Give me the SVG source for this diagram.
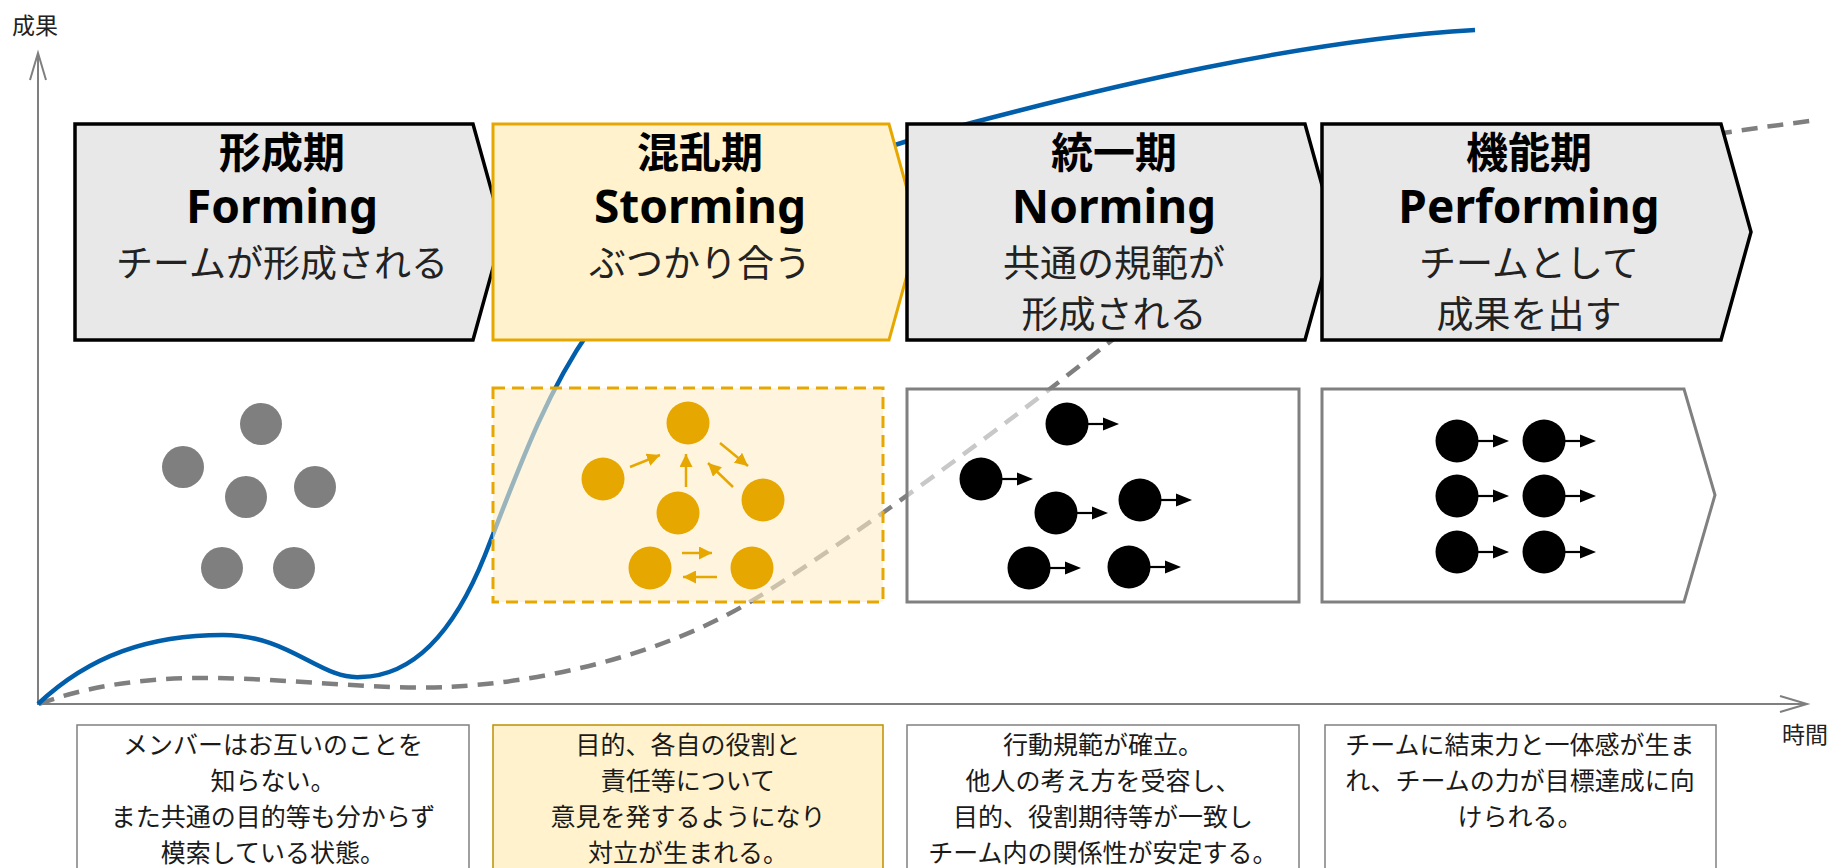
<svg xmlns="http://www.w3.org/2000/svg" width="1833" height="868" viewBox="0 0 1833 868">
<style>
.axis{stroke:#7f7f7f;stroke-width:2;fill:none}
.blue{stroke:#005eaa;stroke-width:4.5;fill:none}
.dash{stroke:#7f7f7f;stroke-width:4.5;fill:none;stroke-dasharray:16 10}
.chev{fill:#e8e8e8;stroke:#000;stroke-width:3.5;stroke-linejoin:miter}
.chevY{fill:#fff2cc;stroke:#e6a800;stroke-width:3}
.jt{font-family:"Noto Sans CJK JP",sans-serif;font-weight:700;font-size:42px;fill:#000;text-anchor:middle}
.en{font-family:"Noto Sans","Noto Sans CJK JP",sans-serif;font-weight:700;font-size:46px;fill:#000;text-anchor:middle}
.sub{font-family:"Noto Sans CJK JP",sans-serif;font-size:37px;fill:#222;text-anchor:middle}
.desc{font-family:"Noto Sans CJK JP",sans-serif;font-size:25px;fill:#1a1a1a;text-anchor:middle}
.lbl{font-family:"Noto Sans CJK JP",sans-serif;font-size:23px;fill:#222}
.dbox{fill:#fff;stroke:#808080;stroke-width:1.5}
.dboxY{fill:#fff2cc;stroke:#bf9000;stroke-width:1.5}
.pbox{fill:#fff;fill-opacity:0.57;stroke:#808080;stroke-width:3}
.gray{fill:#7f7f7f}
.org{fill:#e6a700}
.blk{fill:#000}
.oar{stroke:#e6a700;stroke-width:2.5;fill:none;marker-end:url(#oh)}
</style>
<defs>
<marker id="oh" markerUnits="userSpaceOnUse" markerWidth="13" markerHeight="13" viewBox="0 0 12 12" refX="12" refY="6" orient="auto">
<path d="M0,0 L12,6 L0,12 Z" fill="#e6a700"/>
</marker>
<g id="ar"><line x1="0" y1="0" x2="16" y2="0" stroke="#000" stroke-width="2.2"/><polygon points="15,-6.5 31,0 15,6.5" fill="#000"/></g>
</defs>

<g id="axes">
<line class="axis" x1="38" y1="705" x2="38" y2="53"/>
<polyline class="axis" points="30,80 38,53 46,80"/>
<line class="axis" x1="38" y1="704" x2="1807" y2="704"/>
<polyline class="axis" points="1780,696 1807,704 1780,712"/>
<text class="lbl" x="12" y="34">成果</text>
<text class="lbl" x="1782" y="743">時間</text>
</g>

<g id="curves">
<path class="dash" d="M39,704 C90,685 150,677 217,678 C290,679 380,690 446,687 C540,683 660,656 750,602 C830,554 1000,430 1102,348 C1250,230 1500,160 1810,121"/>
<path class="blue" d="M38,704 C90,655 150,635 223,635 C290,635 320,680 361,677 C415,676 455,630 485,555 C520,465 545,395 590,330 C680,215 830,160 971,123 C1100,89 1300,40 1475,30"/>
</g>

<g id="forming">
<path class="chev" d="M75,124 H473 L503,232 L473,340 H75 Z"/>
<text class="jt" x="282" y="168">形成期</text>
<text class="en" x="282" y="223">Forming</text>
<text class="sub" x="282" y="277">チームが形成される</text>
</g>
<g id="storming">
<path class="chevY" d="M493,124 H889 L919,232 L889,340 H493 Z"/>
<text class="jt" x="700" y="168">混乱期</text>
<text class="en" x="700" y="223">Storming</text>
<text class="sub" x="700" y="277">ぶつかり合う</text>
</g>
<g id="norming">
<path class="chev" d="M907,124 H1305 L1335,232 L1305,340 H907 Z"/>
<text class="jt" x="1114" y="168">統一期</text>
<text class="en" x="1114" y="223">Norming</text>
<text class="sub" x="1114" y="277">共通の規範が</text>
<text class="sub" x="1114" y="328">形成される</text>
</g>
<g id="performing">
<path class="chev" d="M1322,124 H1721 L1751,232 L1721,340 H1322 Z"/>
<text class="jt" x="1529" y="168">機能期</text>
<text class="en" x="1529" y="223">Performing</text>
<text class="sub" x="1529" y="277">チームとして</text>
<text class="sub" x="1529" y="328">成果を出す</text>
</g>

<g id="forming-pic">
<circle class="gray" cx="261" cy="424" r="21"/>
<circle class="gray" cx="183" cy="467" r="21"/>
<circle class="gray" cx="246" cy="497" r="21"/>
<circle class="gray" cx="315" cy="487" r="21"/>
<circle class="gray" cx="222" cy="568" r="21"/>
<circle class="gray" cx="294" cy="568" r="21"/>
</g>

<g id="storming-pic">
<rect x="493" y="388" width="390" height="214" fill="#ffefc8" fill-opacity="0.6" stroke="#e6a800" stroke-width="3" stroke-dasharray="12 7"/>
<circle class="org" cx="688" cy="423" r="21.5"/>
<circle class="org" cx="603" cy="479" r="21.5"/>
<circle class="org" cx="678" cy="513" r="21.5"/>
<circle class="org" cx="763" cy="500" r="21.5"/>
<circle class="org" cx="650" cy="568" r="21.5"/>
<circle class="org" cx="752" cy="568" r="21.5"/>
<line class="oar" x1="630" y1="467" x2="660" y2="455"/>
<line class="oar" x1="686" y1="487" x2="686" y2="454"/>
<line class="oar" x1="733" y1="487" x2="708" y2="463"/>
<line class="oar" x1="720" y1="443" x2="748" y2="466"/>
<line class="oar" x1="682" y1="553" x2="712" y2="553"/>
<line class="oar" x1="717" y1="577" x2="683" y2="577"/>
</g>

<g id="norming-pic">
<rect class="pbox" x="907" y="389" width="392" height="213"/>
<circle class="blk" cx="1067" cy="424" r="21.5"/><use href="#ar" x="1088" y="424"/>
<circle class="blk" cx="981" cy="479" r="21.5"/><use href="#ar" x="1002" y="479"/>
<circle class="blk" cx="1056" cy="513" r="21.5"/><use href="#ar" x="1077" y="513"/>
<circle class="blk" cx="1140" cy="500" r="21.5"/><use href="#ar" x="1161" y="500"/>
<circle class="blk" cx="1029" cy="568" r="21.5"/><use href="#ar" x="1050" y="568"/>
<circle class="blk" cx="1129" cy="567" r="21.5"/><use href="#ar" x="1150" y="567"/>
</g>

<g id="performing-pic">
<path class="pbox" d="M1322,389 H1684 L1715,495 L1684,602 H1322 Z"/>
<circle class="blk" cx="1457" cy="441" r="21.5"/><use href="#ar" x="1478" y="441"/>
<circle class="blk" cx="1544" cy="441" r="21.5"/><use href="#ar" x="1565" y="441"/>
<circle class="blk" cx="1457" cy="496" r="21.5"/><use href="#ar" x="1478" y="496"/>
<circle class="blk" cx="1544" cy="496" r="21.5"/><use href="#ar" x="1565" y="496"/>
<circle class="blk" cx="1457" cy="552" r="21.5"/><use href="#ar" x="1478" y="552"/>
<circle class="blk" cx="1544" cy="552" r="21.5"/><use href="#ar" x="1565" y="552"/>
</g>

<g id="forming-desc">
<rect class="dbox" x="77" y="725" width="392" height="170"/>
<text class="desc" x="273" y="754">メンバーはお互いのことを</text>
<text class="desc" x="273" y="790">知らない。</text>
<text class="desc" x="273" y="826">また共通の目的等も分からず</text>
<text class="desc" x="273" y="862">模索している状態。</text>
</g>
<g id="storming-desc">
<rect class="dboxY" x="493" y="725" width="390" height="170"/>
<text class="desc" x="688" y="754">目的、各自の役割と</text>
<text class="desc" x="688" y="790">責任等について</text>
<text class="desc" x="688" y="826">意見を発するようになり</text>
<text class="desc" x="688" y="862">対立が生まれる。</text>
</g>
<g id="norming-desc">
<rect class="dbox" x="907" y="725" width="392" height="170"/>
<text class="desc" x="1103" y="754">行動規範が確立。</text>
<text class="desc" x="1103" y="790">他人の考え方を受容し、</text>
<text class="desc" x="1103" y="826">目的、役割期待等が一致し</text>
<text class="desc" x="1103" y="862">チーム内の関係性が安定する。</text>
</g>
<g id="performing-desc">
<rect class="dbox" x="1325" y="725" width="391" height="170"/>
<text class="desc" x="1520" y="754">チームに結束力と一体感が生ま</text>
<text class="desc" x="1520" y="790">れ、チームの力が目標達成に向</text>
<text class="desc" x="1520" y="826">けられる。</text>
</g>
</svg>
